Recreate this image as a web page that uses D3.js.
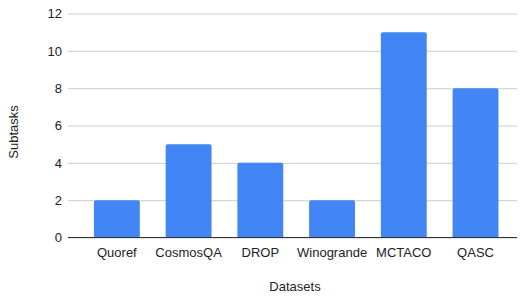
<!DOCTYPE html>
<html>
<head>
<meta charset="utf-8">
<script src="https://cdn.jsdelivr.net/npm/d3@7"></script>
<style>
  html, body { margin: 0; padding: 0; background: #fff; }
  text { font-family: "Liberation Sans", Arial, sans-serif; fill: #222; }
</style>
</head>
<body>
<svg id="chart" width="520" height="298"></svg>
<script>
// Chart data.
const datasets = [ 'Quoref', 'CosmosQA', 'DROP', 'Winogrande', 'MCTACO', 'QASC' ];
const subtasks = [ 2, 5, 4, 2, 11, 8 ];
const yTicks   = [ 0, 2, 4, 6, 8, 10, 12 ];

const rows = datasets.map( ( name, i ) => ( { name: name, value: subtasks[ i ] } ) );

const width  = 520, height = 298;
const margin = { top: 13.5, right: 3, bottom: 60.5, left: 68 };

const svg = d3.select( '#chart' );

const x = d3.scaleBand( )
  .domain( datasets )
  .range( [ 81, 511.4 ] )
  .paddingInner( 0.36 )
  .paddingOuter( 0.18 );

const y = d3.scaleLinear( )
  .domain( [ 0, 12 ] )
  .range( [ height - margin.bottom, margin.top ] );

// Gridlines + y labels
const yAxis = d3.axisLeft( y )
  .tickValues( yTicks )
  .tickSize( -( width - margin.right - margin.left ) )
  .tickPadding( 6 );

const yg = svg.append( 'g' )
  .attr( 'transform', `translate(${margin.left},0)` )
  .call( yAxis );
yg.select( '.domain' ).remove( );
yg.selectAll( '.tick line' ).attr( 'stroke', '#cccccc' ).attr( 'stroke-width', 1 );
yg.selectAll( '.tick text' )
  .attr( 'font-size', 13 )
  .attr( 'fill', '#222' )
  .attr( 'font-family', '"Liberation Sans", Arial, sans-serif' );

// Bars with slightly rounded tops
const r = 2;
svg.append( 'g' ).selectAll( 'path' )
  .data( rows ).enter( ).append( 'path' )
  .attr( 'fill', '#4285f4' )
  .attr( 'd', d => {
    const x0 = x( d.name ), x1 = x0 + x.bandwidth( );
    const y0 = y( 0 ), y1 = y( d.value );
    return `M${x0},${y0} V${y1 + r} Q${x0},${y1} ${x0 + r},${y1} H${x1 - r} Q${x1},${y1} ${x1},${y1 + r} V${y0} Z`;
  } );

// Baseline
svg.append( 'line' )
  .attr( 'x1', margin.left ).attr( 'x2', width - margin.right )
  .attr( 'y1', y( 0 ) ).attr( 'y2', y( 0 ) )
  .attr( 'stroke', '#333' ).attr( 'stroke-width', 1.2 );

// X labels
const xAxis = d3.axisBottom( x ).tickSize( 0 ).tickPadding( 10 );
const xg = svg.append( 'g' )
  .attr( 'transform', `translate(0,${y( 0 )})` )
  .call( xAxis );
xg.select( '.domain' ).remove( );
xg.selectAll( '.tick text' )
  .attr( 'font-size', 13 )
  .attr( 'fill', '#222' )
  .attr( 'font-family', '"Liberation Sans", Arial, sans-serif' );

// Axis titles
svg.append( 'text' )
  .attr( 'x', 295 ).attr( 'y', 291 )
  .attr( 'text-anchor', 'middle' )
  .attr( 'font-size', 13 )
  .text( 'Datasets' );

svg.append( 'text' )
  .attr( 'transform', 'translate(18,132) rotate(-90)' )
  .attr( 'text-anchor', 'middle' )
  .attr( 'font-size', 13 )
  .text( 'Subtasks' );
</script>
</body>
</html>
